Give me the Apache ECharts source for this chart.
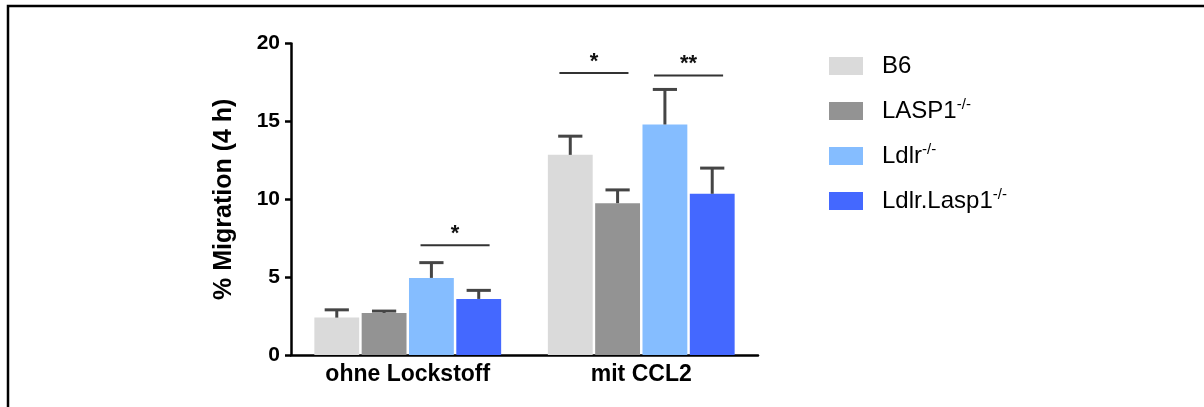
<!DOCTYPE html>
<html>
<head>
<meta charset="utf-8">
<script src="https://cdn.jsdelivr.net/npm/echarts@6/dist/echarts.min.js"></script>
<style>
  html, body { margin: 0; padding: 0; background: #fff; }
  #chart { width: 1204px; height: 407px; }
</style>
</head>
<body>
<div id="chart"></div>
<script>
// Conditions on the x axis
const categories = ['ohne Lockstoff', 'mit CCL2'];

// Genotypes (legend) and their superscripts
const groupNames = ['B6', 'LASP1', 'Ldlr', 'Ldlr.Lasp1'];
const groupSup = ['', '-/-', '-/-', '-/-'];
const groupColors = ['#dadada', '#939393', '#85bdff', '#4468ff'];

// Mean % migration after 4 h, one value per condition
const meanB6 = [2.4, 12.85];
const meanLasp1 = [2.7, 9.75];
const meanLdlr = [4.95, 14.8];
const meanLdlrLasp1 = [3.6, 10.35];

// Upper error (SEM) per condition
const errB6 = [0.5, 1.2];
const errLasp1 = [0.12, 0.85];
const errLdlr = [0.98, 2.25];
const errLdlrLasp1 = [0.55, 1.65];

// Significance brackets: condition index, compared genotypes, height, label
const sigCategory = [0, 1, 1];
const sigFrom = [2, 0, 2];
const sigTo = [3, 1, 3];
const sigHeight = [7.05, 18.1, 17.95];
const sigLabel = ['*', '*', '**'];

// Y axis ticks
const yMin = 0, yMax = 20, yStep = 5;

const means = [meanB6, meanLasp1, meanLdlr, meanLdlrLasp1];
const errs = [errB6, errLasp1, errLdlr, errLdlrLasp1];

const FONT = 'Arial, "Liberation Sans", Helvetica, sans-serif';
const CATEGORY_GAP = 0.2;   // fraction of band left empty
const BAR_GAP = 0.055;      // gap between bars relative to bar width
const nGroups = groupNames.length;

// Same geometry that ECharts uses for grouped bars
function barLayout(bandWidth) {
  const usable = bandWidth * (1 - CATEGORY_GAP);
  const w = usable / (nGroups + (nGroups - 1) * BAR_GAP);
  const step = w * (1 + BAR_GAP);
  const total = w * nGroups + w * BAR_GAP * (nGroups - 1);
  return { width: w, offset: i => -total / 2 + i * step + w / 2 };
}

const barSeries = groupNames.map((name, gi) => ({
  name: name,
  type: 'bar',
  data: means[gi],
  barCategoryGap: (CATEGORY_GAP * 100) + '%',
  barGap: (BAR_GAP * 100) + '%',
  itemStyle: { color: groupColors[gi] },
  emphasis: { disabled: true },
  z: 2
}));

const errorSeries = groupNames.map((name, gi) => ({
  type: 'custom',
  name: name + ' SEM',
  data: means[gi].map((m, ci) => [ci, m, errs[gi][ci]]),
  z: 5,
  silent: true,
  renderItem: function (params, api) {
    const ci = api.value(0), m = api.value(1), e = api.value(2);
    const band = api.size([1, 0])[0];
    const lay = barLayout(band);
    const base = api.coord([ci, m]);
    const top = api.coord([ci, m + e]);
    const x = base[0] + lay.offset(gi);
    const capHalf = lay.width * 0.27;
    const style = { stroke: '#454545', lineWidth: 3 };
    return {
      type: 'group',
      children: [
        { type: 'line', shape: { x1: x, y1: base[1], x2: x, y2: top[1] }, style: style },
        { type: 'line', shape: { x1: x - capHalf, y1: top[1], x2: x + capHalf, y2: top[1] }, style: style }
      ]
    };
  }
}));

// Bracket line centred between the two compared bars
const sigSeries = {
  type: 'custom',
  name: 'significance',
  data: sigCategory.map((c, k) => [c, sigHeight[k], sigFrom[k], sigTo[k], k]),
  z: 6,
  silent: true,
  renderItem: function (params, api) {
    const ci = api.value(0), h = api.value(1);
    const from = api.value(2), to = api.value(3), k = api.value(4);
    const band = api.size([1, 0])[0];
    const lay = barLayout(band);
    const p = api.coord([ci, h]);
    const mid = p[0] + (lay.offset(from) + lay.offset(to)) / 2;
    const half = lay.width * 0.77;
    const x1 = mid - half, x2 = mid + half;
    return {
      type: 'group',
      children: [
        { type: 'line', shape: { x1: x1, y1: p[1], x2: x2, y2: p[1] },
          style: { stroke: '#333', lineWidth: 2 } },
        { type: 'text', x: mid, y: p[1] - 11,
          style: { text: sigLabel[k], font: 'bold 22px ' + FONT, fill: '#111',
                   align: 'center', verticalAlign: 'middle' } }
      ]
    };
  }
};

const chart = echarts.init(document.getElementById('chart'), null, { renderer: 'canvas' });

chart.setOption({
  animation: false,
  backgroundColor: '#fff',
  grid: { left: 291, right: 446, top: 43.5, bottom: 52, containLabel: false },
  legend: {
    data: groupNames,
    orient: 'vertical',
    left: 829,
    top: 52,
    padding: 0,
    itemWidth: 34,
    itemHeight: 18,
    itemGap: 17,
    icon: 'rect',
    selectedMode: false,
    formatter: function (name) {
      const sup = groupSup[groupNames.indexOf(name)];
      return sup ? name + '{sup|' + sup + '}' : name;
    },
    textStyle: {
      fontFamily: FONT, fontSize: 24, color: '#000', lineHeight: 28, padding: [0, 0, 0, 14],
      rich: { sup: { fontFamily: FONT, fontSize: 15, color: '#000', verticalAlign: 'top', lineHeight: 18 } }
    }
  },
  xAxis: {
    type: 'category',
    data: categories,
    axisLine: { lineStyle: { color: '#000', width: 2.5 } },
    axisTick: { alignWithLabel: true, length: 5, lineStyle: { color: '#000', width: 2.5 } },
    axisLabel: { color: '#000', fontFamily: FONT, fontWeight: 'bold', fontSize: 23, margin: 8 }
  },
  yAxis: {
    type: 'value',
    min: yMin, max: yMax, interval: yStep,
    name: '% Migration (4 h)',
    nameLocation: 'middle',
    nameGap: 54,
    nameTextStyle: { color: '#000', fontFamily: FONT, fontWeight: 'bold', fontSize: 25 },
    axisLine: { show: true, lineStyle: { color: '#000', width: 2.5 } },
    axisTick: { show: true, length: 6, lineStyle: { color: '#000', width: 2.5 } },
    splitLine: { show: false },
    axisLabel: { color: '#000', fontFamily: FONT, fontWeight: 'bold', fontSize: 21, margin: 11 }
  },
  graphic: [{
    type: 'rect',
    shape: { x: 8, y: 6, width: 1400, height: 600 },
    style: { fill: 'none', stroke: '#000', lineWidth: 2.5 },
    silent: true, z: 100
  }],
  series: barSeries.concat(errorSeries, [sigSeries])
});
</script>
</body>
</html>
